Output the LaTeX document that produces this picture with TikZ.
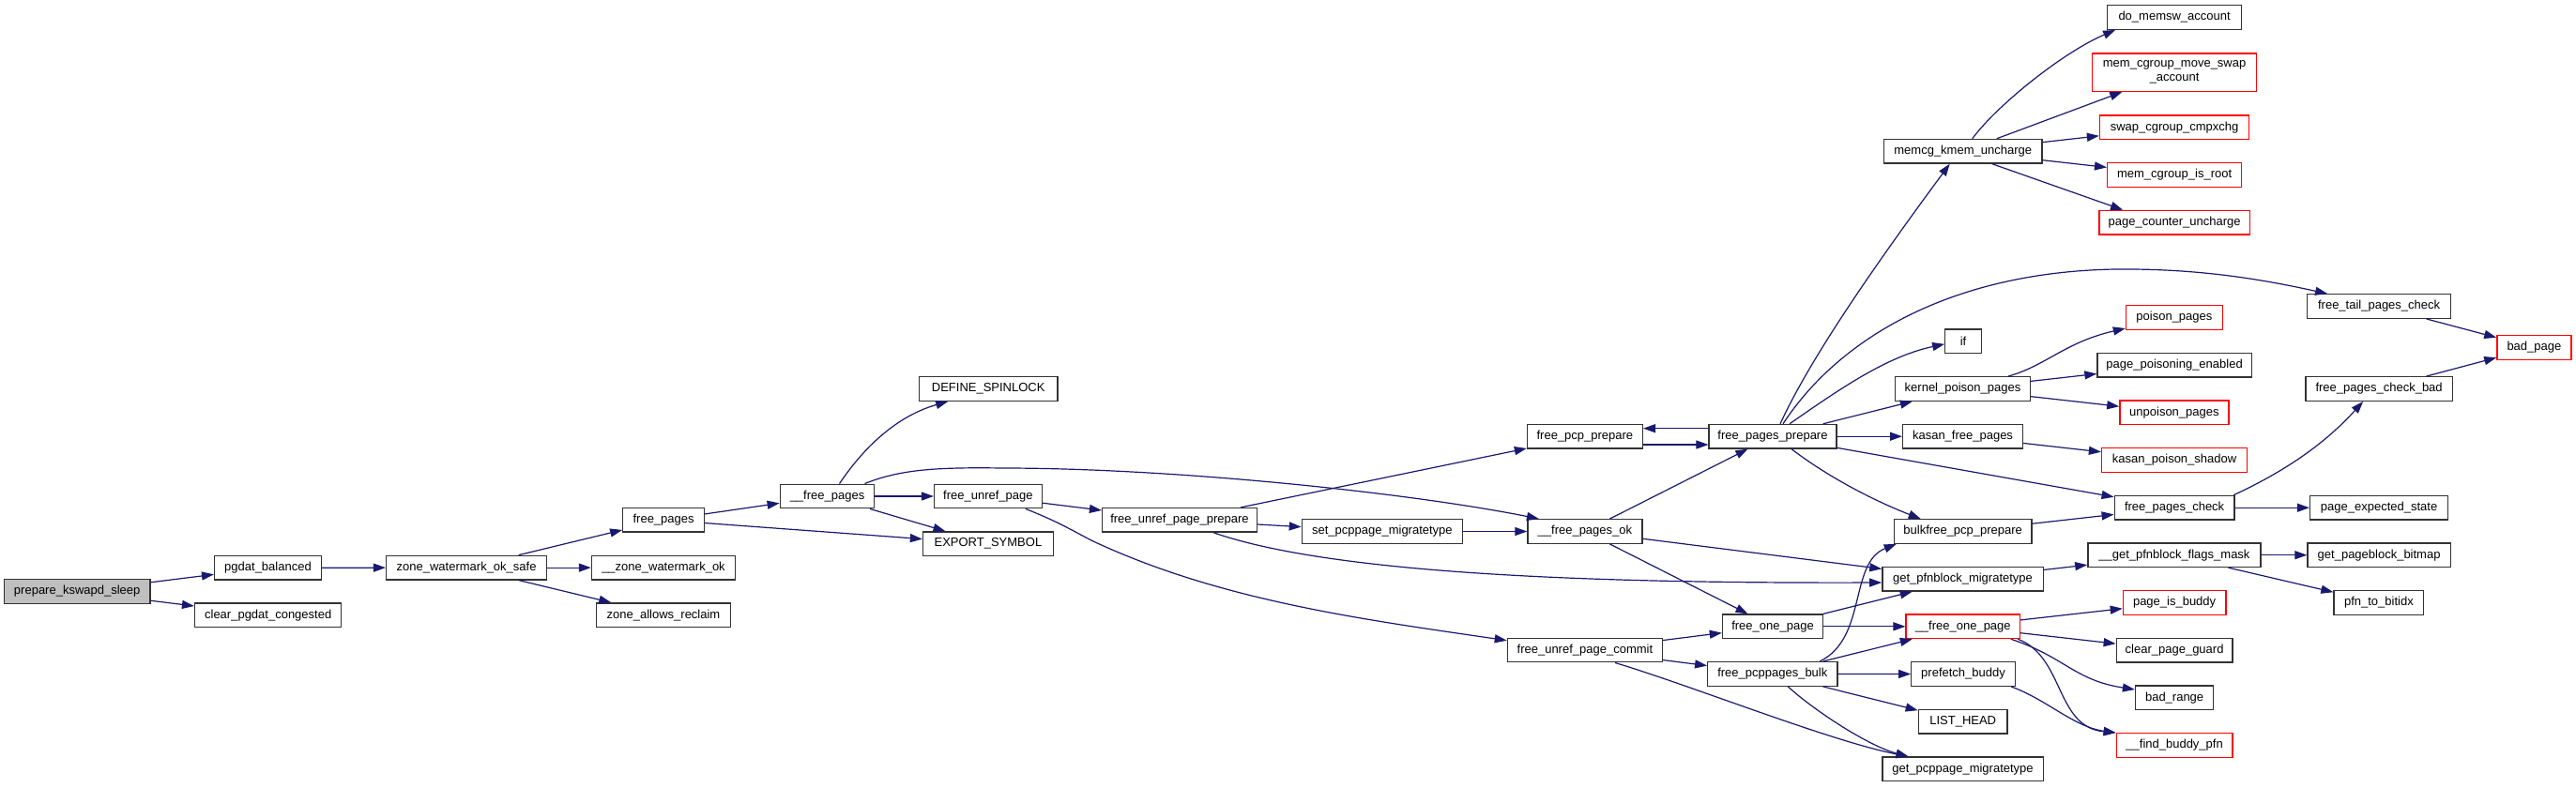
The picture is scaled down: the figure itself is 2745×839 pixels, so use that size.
\documentclass[tikz,border=0pt]{standalone}
\usepackage{fontspec}
\setmainfont{Liberation Sans}
\usetikzlibrary{arrows.meta}
\definecolor{edgeblue}{HTML}{191970}
\definecolor{boxgray}{HTML}{333333}
\definecolor{rootfill}{HTML}{BFBFBF}
\definecolor{boxred}{HTML}{FF0000}
\tikzset{
  box/.style={draw=boxgray, line width=1.3pt, fill=white, minimum height=25.6pt, inner sep=0pt, text=black},
  redbox/.style={box, draw=boxred},
  rootbox/.style={box, fill=rootfill},
  edge/.style={draw=edgeblue, line width=1.2pt, -{Triangle[length=13pt,width=9pt]}}
}
\begin{document}
\begin{tikzpicture}[x=1pt, y=-1pt, font=\fontsize{13}{15}\selectfont]
\useasboundingbox (0,0) rectangle (2745,839);
% column 1-3
\node[rootbox, minimum width=155.5pt] (pks) at (82.2,630.5) {prepare\_kswapd\_sleep};
\node[box, minimum width=113.8pt] (pgb) at (285.5,605.2) {pgdat\_balanced};
\node[box, minimum width=156.2pt] (cpc) at (285.7,655.8) {clear\_pgdat\_congested};
\node[box, minimum width=171pt] (zwos) at (497.1,605.1) {zone\_watermark\_ok\_safe};
\node[box, minimum width=86.6pt] (fp) at (707.1,554.3) {free\_pages};
\node[box, minimum width=153.1pt] (zwo) at (707,605.1) {\_\_zone\_watermark\_ok};
\node[box, minimum width=143.3pt] (zar) at (707,655.8) {zone\_allows\_reclaim};
\node[box, minimum width=147.3pt] (ds) at (1053.2,414.5) {DEFINE\_SPINLOCK};
\node[box, minimum width=100.5pt] (ufp) at (881.5,529) {\_\_free\_pages};
\node[box, minimum width=114.8pt] (fup) at (1052.9,529) {free\_unref\_page};
\node[box, minimum width=138.8pt] (es) at (1052.9,579.7) {EXPORT\_SYMBOL};
\node[box, minimum width=164.9pt] (fupp) at (1257,554.3) {free\_unref\_page\_prepare};
\node[box, minimum width=171.2pt] (spm) at (1472.9,566.5) {set\_pcppage\_migratetype};
\node[box, minimum width=122.9pt] (fpcp) at (1688.9,465.2) {free\_pcp\_prepare};
\node[box, minimum width=121.9pt] (fpok) at (1688.9,566.5) {\_\_free\_pages\_ok};
\node[box, minimum width=165.1pt] (fupc) at (1688.9,693) {free\_unref\_page\_commit};
\node[box, minimum width=135.8pt] (fpp) at (1889,465.2) {free\_pages\_prepare};
\node[box, minimum width=107.2pt] (fop) at (1889,667.8) {free\_one\_page};
\node[box, minimum width=138.2pt] (fpb) at (1888.8,718.4) {free\_pcppages\_bulk};
% column memcg etc
\node[box, minimum width=168.8pt] (mku) at (2091.7,161.2) {memcg\_kmem\_uncharge};
\node[box, minimum width=38.5pt] (ifn) at (2092,363.8) {if};
\node[box, minimum width=144pt] (kpp) at (2091.5,414.5) {kernel\_poison\_pages};
\node[box, minimum width=127.7pt] (kfp) at (2091.5,465.2) {kasan\_free\_pages};
\node[box, minimum width=146.6pt] (bpp) at (2091.7,566.5) {bulkfree\_pcp\_prepare};
\node[box, minimum width=171.3pt] (gpm) at (2091.5,617.2) {get\_pfnblock\_migratetype};
\node[redbox, minimum width=121.2pt] (fonep) at (2091.7,667.8) {\_\_free\_one\_page};
\node[box, minimum width=110.5pt] (pb) at (2092,718.5) {prefetch\_buddy};
\node[box, minimum width=94.8pt] (lh) at (2091.7,769.2) {LIST\_HEAD};
\node[box, minimum width=171.3pt] (gppm) at (2091.5,819.8) {get\_pcppage\_migratetype};
% next column
\node[box, minimum width=143pt] (dma) at (2317.1,18.5) {do\_memsw\_account};
\node[redbox, minimum width=175.4pt, minimum height=40.3pt, align=center] (mcms) at (2317.1,77.2) {mem\_cgroup\_move\_swap\\\_account};
\node[redbox, minimum width=159.2pt] (scc) at (2317.1,135.8) {swap\_cgroup\_cmpxchg};
\node[redbox, minimum width=143pt] (mcir) at (2317.1,186.5) {mem\_cgroup\_is\_root};
\node[redbox, minimum width=160.2pt] (pcu) at (2317.1,237.2) {page\_counter\_uncharge};
\node[redbox, minimum width=102.9pt] (pp) at (2316.9,338.5) {poison\_pages};
\node[box, minimum width=164.2pt] (ppe) at (2317.1,389.2) {page\_poisoning\_enabled};
\node[redbox, minimum width=116.1pt] (up) at (2316.9,439.8) {unpoison\_pages};
\node[redbox, minimum width=155.2pt] (kps) at (2317.1,490.5) {kasan\_poison\_shadow};
\node[box, minimum width=127.8pt] (fpc) at (2317.1,541.2) {free\_pages\_check};
\node[box, minimum width=184.1pt] (gpfm) at (2316.9,591.7) {\_\_get\_pfnblock\_flags\_mask};
\node[redbox, minimum width=109.5pt] (pib) at (2317.1,642.5) {page\_is\_buddy};
\node[box, minimum width=123.7pt] (cpg) at (2317.1,693.2) {clear\_page\_guard};
\node[box, minimum width=83.2pt] (br) at (2317.1,743.8) {bad\_range};
\node[redbox, minimum width=123.7pt] (fbp) at (2317.1,794.5) {\_\_find\_buddy\_pfn};
% last columns
\node[box, minimum width=153.2pt] (ftpc) at (2535.1,326.5) {free\_tail\_pages\_check};
\node[redbox, minimum width=79.1pt] (bp) at (2700.4,370.5) {bad\_page};
\node[box, minimum width=156.2pt] (fpcb) at (2535.1,414.5) {free\_pages\_check\_bad};
\node[box, minimum width=147pt] (pes) at (2535.1,541.2) {page\_expected\_state};
\node[box, minimum width=152.2pt] (gpb) at (2535.1,591.7) {get\_pageblock\_bitmap};
\node[box, minimum width=95.8pt] (ptb) at (2534.9,642.5) {pfn\_to\_bitidx};
% edges
\draw[edge] (pks) -- (pgb);
\draw[edge] (pks) -- (cpc);
\draw[edge] (pgb) -- (zwos);
\draw[edge] (zwos) -- (fp);
\draw[edge] (zwos) -- (zwo);
\draw[edge] (zwos) -- (zar);
\draw[edge] (fp) -- (ufp);
\draw[edge] (fp) -- (es);
\draw[edge] ([xshift=13pt]ufp.north) .. controls (915,485) and (950,445) .. ([xshift=-43pt]ds.south);
\draw[edge] ([xshift=40pt]ufp.north) .. controls (960,500) and (1000,498) .. (1069,499) .. controls (1250,499) and (1500,525) .. ([xshift=-49pt]fpok.north);
\draw[edge] (ufp) -- (fup);
\draw[edge] (ufp) -- (es);
\draw[edge] (fup) -- (fupp);
\draw[edge] ([xshift=40pt]fup.south) .. controls (1130,557) and (1145,567) .. (1165,577) .. controls (1300,640) and (1450,660) .. ([yshift=10.3pt]fupc.west);
\draw[edge] (fupp) -- (fpcp);
\draw[edge] (fupp) -- (spm);
\draw[edge] ([xshift=36pt]fupp.south) .. controls (1420,612) and (1700,622) .. ([yshift=-3.8pt]gpm.west);
\draw[edge] (spm) -- (fpok);
\draw[edge] ([yshift=-8.8pt]fpcp.east) -- ([yshift=-8.8pt]fpp.west);
\draw[edge] ([yshift=8.5pt]fpp.west) -- ([yshift=8.5pt]fpcp.east);
\draw[edge] (fpok) -- (fpp);
\draw[edge] (fpok) -- (gpm);
\draw[edge] (fpok) -- (fop);
\draw[edge] (fupc) -- (fop);
\draw[edge] (fupc) -- (fpb);
\draw[edge] ([xshift=32pt]fupc.south) .. controls (1800,730) and (1950,790) .. ([xshift=-58pt]gppm.north);
\draw[edge] (fop) -- (gpm);
\draw[edge] (fop) -- (fonep);
\draw[edge] ([xshift=50.5pt]fpb.north) .. controls (1990,680) and (1970,600) .. ([xshift=-71pt]bpp.south);
\draw[edge] (fpb) -- (fonep);
\draw[edge] (fpb) -- (pb);
\draw[edge] (fpb) -- (lh);
\draw[edge] ([xshift=16.5pt]fpb.south) .. controls (1930,755) and (1990,795) .. ([xshift=-58pt]gppm.north);
% free_pages_prepare fan
\draw[edge] ([xshift=8pt]fpp.north) .. controls (1930,380) and (2000,280) .. ([xshift=-14pt]mku.south);
\draw[edge] ([xshift=11pt]fpp.north) .. controls (1960,360) and (2080,290) .. (2254,287) .. controls (2350,286) and (2420,300) .. ([xshift=-55pt]ftpc.north);
\draw[edge] ([xshift=18pt]fpp.north) .. controls (1960,415) and (2010,380) .. ([yshift=-3pt]ifn.west);
\draw[edge] (fpp) -- (kpp);
\draw[edge] (fpp) -- (kfp);
\draw[edge] (fpp) -- (fpc);
\draw[edge] ([xshift=20pt]fpp.south) .. controls (1950,510) and (2000,535) .. ([xshift=-45pt]bpp.north);
% memcg
\draw[edge] ([xshift=10pt]mku.north) .. controls (2130,110) and (2200,55) .. ([xshift=-63pt]dma.south);
\draw[edge] (mku) -- (mcms);
\draw[edge] (mku) -- (scc);
\draw[edge] (mku) -- (mcir);
\draw[edge] ([xshift=31pt]mku.south) -- ([xshift=-55pt]pcu.north);
% poison
\draw[edge] ([xshift=48.5pt]kpp.north) .. controls (2180,390) and (2200,365) .. ([yshift=-11.5pt]pp.west);
\draw[edge] (kpp) -- (ppe);
\draw[edge] (kpp) -- (up);
\draw[edge] (kfp) -- (kps);
% checks
\draw[edge] (ftpc) -- (bp);
\draw[edge] (fpcb) -- (bp);
\draw[edge] ([xshift=63pt]fpc.north) .. controls (2440,500) and (2480,470) .. ([xshift=-17pt]fpcb.south);
\draw[edge] (fpc) -- (pes);
\draw[edge] (bpp) -- (fpc);
\draw[edge] (gpm) -- (gpfm);
\draw[edge] (gpfm) -- (gpb);
\draw[edge] (gpfm) -- (ptb);
% buddy
\draw[edge] (fonep) -- (pib);
\draw[edge] (fonep) -- (cpg);
\draw[edge] ([xshift=51pt]fonep.south) .. controls (2200,700) and (2210,725) .. ([yshift=8.8pt]br.west);
\draw[edge] ([xshift=58.5pt]fonep.south) .. controls (2200,700) and (2190,775) .. (fbp.north west);
\draw[edge] ([xshift=51pt]pb.south) .. controls (2180,745) and (2210,775) .. (fbp.north west);
\end{tikzpicture}
\end{document}
